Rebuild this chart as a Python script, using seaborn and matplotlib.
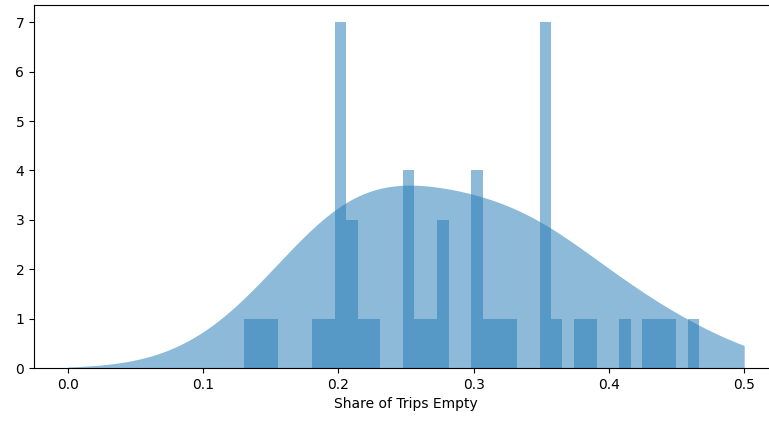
import numpy as np
import matplotlib
matplotlib.use("Agg")
import matplotlib.pyplot as plt
import seaborn as sns

# share of trips that ran empty, one value per route
share_empty = [
    0.130, 0.143, 0.150,
    0.182, 0.190,
    0.2, 0.2, 0.2, 0.2, 0.2, 0.2, 0.2,
    0.208, 0.211, 0.212,
    0.222, 0.227,
    0.25, 0.25, 0.25, 0.25,
    0.26, 0.267,
    0.276, 0.278, 0.28,
    0.3, 0.3, 0.3, 0.3,
    0.308, 0.318, 0.325,
    0.35, 0.35, 0.35, 0.35, 0.35, 0.35, 0.35,
    0.36,
    0.375, 0.385,
    0.41,
    0.429, 0.435, 0.444,
    0.4667,
]
x_ticks = [0.0, 0.1, 0.2, 0.3, 0.4, 0.5]

fig = plt.figure(figsize=(7.69, 4.24), dpi=100)
ax = fig.add_axes([34 / 769, 1 - 368 / 424, (778 - 34) / 769, (368 - 5) / 424])

sns.histplot(x=share_empty, bins=40, color="C0", alpha=0.5, linewidth=0, ax=ax)
sns.kdeplot(x=share_empty, fill=True, color="C0", alpha=0.5, linewidth=0,
            clip=(0.0, 0.5), bw_adjust=1.4, ax=ax)

ax.set_xlim(-0.025, 0.525)
ax.set_ylim(0, 7.35)
ax.set_xticks(x_ticks)
ax.set_xlabel("Share of Trips Empty")
ax.set_ylabel("")

fig.savefig("out.png", dpi=100)
